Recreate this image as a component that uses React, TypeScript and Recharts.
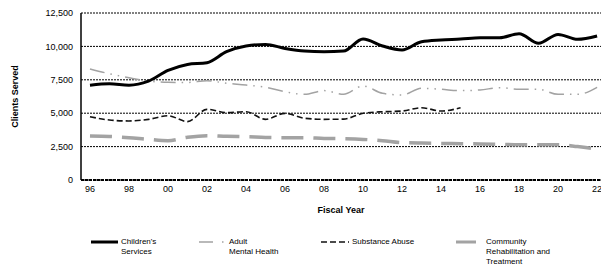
import { LineChart, Line, XAxis, YAxis, CartesianGrid } from "recharts";

const years = [
  1996, 1997, 1998, 1999, 2000, 2001, 2002, 2003, 2004, 2005, 2006, 2007, 2008, 2009,
  2010, 2011, 2012, 2013, 2014, 2015, 2016, 2017, 2018, 2019, 2020, 2021, 2022,
];
const childrens = [
  7100, 7200, 7100, 7400, 8200, 8650, 8780, 9600, 10030, 10150, 9850, 9650, 9600, 9650,
  10550, 10030, 9730, 10350, 10480, 10550, 10650, 10650, 10950, 10230, 10900, 10530, 10780,
];
const adultMH = [
  8310, 7950, 7650, 7400, 7310, 7300, 7430, 7240, 7110, 6940, 6610, 6410, 6690, 6410,
  7040, 6490, 6360, 6860, 6790, 6690, 6740, 6910, 6790, 6790, 6410, 6410, 6940,
];
const substance = [
  4740, 4490, 4420, 4540, 4810, 4370, 5290, 5040, 5110, 4540, 4990, 4620, 4540, 4560,
  4990, 5110, 5160, 5410, 5160, 5410, null, null, null, null, null, null, null,
];
const community = [
  3290, 3260, 3170, 3040, 2940, 3200, 3320, 3270, 3240, 3190, 3170, 3170, 3110, 3090,
  3040, 2940, 2790, 2770, 2740, 2720, 2700, 2670, 2640, 2640, 2640, 2500, 2320,
];
const xTicks = [1996, 1998, 2000, 2002, 2004, 2006, 2008, 2010, 2012, 2014, 2016, 2018, 2020, 2022];
const xTickLabels = ["96", "98", "00", "02", "04", "06", "08", "10", "12", "14", "16", "18", "20", "22"];
const yTicks = [0, 2500, 5000, 7500, 10000, 12500];

const data = years.map((y, i) => ({
  year: y,
  childrens: childrens[i],
  adult: adultMH[i],
  substance: substance[i],
  community: community[i],
}));

const FONT = "'Liberation Sans', Arial, sans-serif";
const GRAY = "#a3a3a3";

function LegendItem({ left, sample, lines }: { left: number; sample: JSX.Element; lines: string[] }) {
  return (
    <div style={{ position: "absolute", left, top: 237, display: "flex" }}>
      <div style={{ height: 10, display: "flex", alignItems: "center" }}>{sample}</div>
      <div style={{ fontSize: 8, lineHeight: "10px", color: "#000", marginLeft: 3 }}>
        {lines.map((l) => (
          <div key={l} style={{ whiteSpace: "nowrap" }}>{l}</div>
        ))}
      </div>
    </div>
  );
}

export default function App() {
  return (
    <div
      style={{
        position: "absolute",
        left: 0,
        top: 0,
        width: 601,
        height: 269,
        overflow: "hidden",
        background: "#fff",
        fontFamily: FONT,
      }}
    >
      <LineChart width={601} height={269} data={data} margin={{ top: 13, right: 0, left: 0, bottom: 59 }}>
        <CartesianGrid vertical={false} stroke="#000" strokeDasharray="2 1" strokeWidth={1} />
        <XAxis
          dataKey="year"
          type="number"
          domain={[1995.54, 2022.2]}
          ticks={xTicks}
          interval={0}
          allowDataOverflow
          height={30}
          tickLine={false}
          tickMargin={0}
          axisLine={{ stroke: "#000", strokeWidth: 2, strokeDasharray: "3 1" }}
          tick={{ fill: "#000", fontSize: 9, fontFamily: FONT }}
          tickFormatter={(v: number) => xTickLabels[xTicks.indexOf(v)]}
          label={({ viewBox }: any) => (
            <text
              x={viewBox.x + viewBox.width / 2}
              y={213}
              textAnchor="middle"
              fontSize={9}
              fontWeight="bold"
              fontFamily={FONT}
              fill="#000"
            >
              Fiscal Year
            </text>
          )}
        />
        <YAxis
          domain={[0, 12500]}
          ticks={yTicks}
          width={81}
          tickLine={false}
          axisLine={{ stroke: "#000", strokeWidth: 1.5 }}
          tick={{ fill: "#000", fontSize: 9, fontFamily: FONT }}
          tickFormatter={(v: number) => v.toLocaleString("en-US")}
          label={({ viewBox }: any) => {
            const cy = viewBox.y + viewBox.height / 2;
            return (
              <text
                x={15}
                y={cy}
                transform={`rotate(-90, 15, ${cy})`}
                textAnchor="middle"
                dominantBaseline="central"
                fontSize={9}
                fontWeight="bold"
                fontFamily={FONT}
                fill="#000"
              >
                Clients Served
              </text>
            );
          }}
        />
        <Line
          type="monotone"
          dataKey="community"
          stroke={GRAY}
          strokeWidth={3.5}
          strokeDasharray="22 10"
          dot={false}
          isAnimationActive={false}
        />
        <Line
          type="monotone"
          dataKey="adult"
          stroke={GRAY}
          strokeWidth={1.5}
          strokeDasharray="15 6 1.5 6 1.5 6"
          dot={false}
          isAnimationActive={false}
        />
        <Line
          type="monotone"
          dataKey="substance"
          stroke="#111"
          strokeWidth={1.6}
          strokeDasharray="6 3"
          dot={false}
          connectNulls={false}
          isAnimationActive={false}
        />
        <Line
          type="monotone"
          dataKey="childrens"
          stroke="#000"
          strokeWidth={3}
          dot={false}
          isAnimationActive={false}
        />
      </LineChart>

      <LegendItem
        left={91}
        lines={["Children's", "Services"]}
        sample={
          <svg width={27} height={4}>
            <line x1={0} y1={2} x2={27} y2={2} stroke="#000" strokeWidth={3} />
          </svg>
        }
      />
      <LegendItem
        left={199}
        lines={["Adult", "Mental Health"]}
        sample={
          <svg width={27} height={4}>
            <line x1={0} y1={2} x2={27} y2={2} stroke={GRAY} strokeWidth={1.5} strokeDasharray="14 9 1.5 6" />
          </svg>
        }
      />
      <LegendItem
        left={321}
        lines={["Substance Abuse"]}
        sample={
          <svg width={28} height={4}>
            <line x1={0} y1={2} x2={28} y2={2} stroke="#111" strokeWidth={1.6} strokeDasharray="6 3" />
          </svg>
        }
      />
      <LegendItem
        left={456}
        lines={["Community", "Rehabilitation and", "Treatment"]}
        sample={
          <svg width={27} height={4}>
            <line x1={0} y1={2} x2={20} y2={2} stroke={GRAY} strokeWidth={3} />
          </svg>
        }
      />
    </div>
  );
}
